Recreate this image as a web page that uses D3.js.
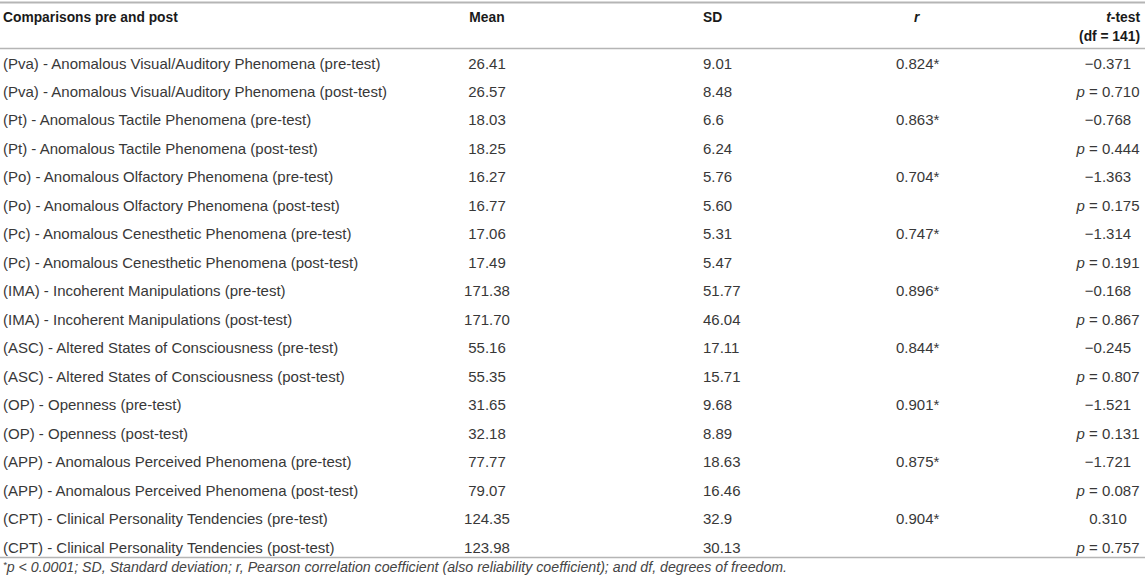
<!DOCTYPE html>
<html>
<head>
<meta charset="utf-8">
<script src="https://cdn.jsdelivr.net/npm/d3@7"></script>
<style>
  body { margin: 0; background: #fff; }
  svg { display: block; font-family: "Liberation Sans", Arial, Helvetica, sans-serif; }
  .cell { font-size: 15px; fill: #383838; }
  .head { font-size: 13.8px; font-weight: bold; fill: #1a1a1a; }
  .note { font-size: 14.2px; font-style: italic; fill: #444; }
</style>
</head>
<body>
<script>
//Table contents
var labels = [
  "(Pva) - Anomalous Visual/Auditory Phenomena (pre-test)",
  "(Pva) - Anomalous Visual/Auditory Phenomena (post-test)",
  "(Pt) - Anomalous Tactile Phenomena (pre-test)",
  "(Pt) - Anomalous Tactile Phenomena (post-test)",
  "(Po) - Anomalous Olfactory Phenomena (pre-test)",
  "(Po) - Anomalous Olfactory Phenomena (post-test)",
  "(Pc) - Anomalous Cenesthetic Phenomena (pre-test)",
  "(Pc) - Anomalous Cenesthetic Phenomena (post-test)",
  "(IMA) - Incoherent Manipulations (pre-test)",
  "(IMA) - Incoherent Manipulations (post-test)",
  "(ASC) - Altered States of Consciousness (pre-test)",
  "(ASC) - Altered States of Consciousness (post-test)",
  "(OP) - Openness (pre-test)",
  "(OP) - Openness (post-test)",
  "(APP) - Anomalous Perceived Phenomena (pre-test)",
  "(APP) - Anomalous Perceived Phenomena (post-test)",
  "(CPT) - Clinical Personality Tendencies (pre-test)",
  "(CPT) - Clinical Personality Tendencies (post-test)"
];
var means = ["26.41","26.57","18.03","18.25","16.27","16.77","17.06","17.49","171.38","171.70",
             "55.16","55.35","31.65","32.18","77.77","79.07","124.35","123.98"];
var sds = ["9.01","8.48","6.6","6.24","5.76","5.60","5.31","5.47","51.77","46.04",
           "17.11","15.71","9.68","8.89","18.63","16.46","32.9","30.13"];
//one value per pair (pre-test row)
var rs = ["0.824*","0.863*","0.704*","0.747*","0.896*","0.844*","0.901*","0.875*","0.904*"];
var tvals = ["\u22120.371","\u22120.768","\u22121.363","\u22121.314","\u22120.168","\u22120.245","\u22121.521","\u22121.721","0.310"];
var pvals = ["0.710","0.444","0.175","0.191","0.867","0.807","0.131","0.087","0.757"];
var columns = ["label","mean","sd","r","t"];

var width = 1145, height = 578;

var svg = d3.select("body").append("svg")
    .attr("width", width)
    .attr("height", height);

//row and column positions
var y = d3.scalePoint()
    .domain(d3.range(labels.length))
    .range([63, 547]);

var x = d3.scaleOrdinal()
    .domain(columns)
    .range([3, 487, 703, 896, 1108]);

var rule = function(yy, w) {
  svg.append("line")
      .attr("x1", 0).attr("x2", width)
      .attr("y1", yy).attr("y2", yy)
      .attr("stroke", "#b5b5b5")
      .attr("stroke-width", w);
};
rule(2.5, 2);
rule(48.5, 1.5);
rule(557.5, 1.5);

//header
var head = svg.append("g").attr("class", "head");
head.append("text").attr("x", x("label")).attr("y", 22).text("Comparisons pre and post");
head.append("text").attr("x", x("mean")).attr("y", 22).attr("text-anchor", "middle").text("Mean");
head.append("text").attr("x", x("sd")).attr("y", 22).text("SD");
head.append("text").attr("x", 914).attr("y", 22).attr("font-style", "italic").text("r");
var tt = head.append("text").attr("x", 1140).attr("y", 22).attr("text-anchor", "end");
tt.append("tspan").attr("font-style", "italic").text("t");
tt.append("tspan").text("-test");
head.append("text").attr("x", 1140).attr("y", 41).attr("text-anchor", "end").text("(df = 141)");

//body rows
var rows = svg.append("g").selectAll("g")
    .data(labels)
    .enter().append("g")
    .attr("class", "cell")
    .attr("transform", function(d, i) { return "translate(0," + (y(i) + 5.5) + ")"; });

rows.append("text").attr("x", x("label")).text(function(d) { return d; });
rows.append("text").attr("x", x("mean")).attr("text-anchor", "middle")
    .text(function(d, i) { return means[i]; });
rows.append("text").attr("x", x("sd"))
    .text(function(d, i) { return sds[i]; });

var pre = rows.filter(function(d, i) { return i % 2 === 0; });
var post = rows.filter(function(d, i) { return i % 2 === 1; });

pre.append("text").attr("x", x("r"))
    .text(function(d, i) { return rs[i]; });
pre.append("text").attr("x", x("t")).attr("text-anchor", "middle")
    .text(function(d, i) { return tvals[i]; });
var pt = post.append("text").attr("x", x("t")).attr("text-anchor", "middle");
pt.append("tspan").attr("font-style", "italic").text("p");
pt.append("tspan").text(function(d, i) { return " = " + pvals[i]; });

//footnote
var note = svg.append("text").attr("class", "note").attr("x", 3).attr("y", 572);
note.append("tspan").attr("font-size", "9.5px").attr("dy", "-4").text("*");
note.append("tspan").attr("dy", "4")
    .text("p < 0.0001; SD, Standard deviation; r, Pearson correlation coefficient (also reliability coefficient); and df, degrees of freedom.");
</script>
</body>
</html>
